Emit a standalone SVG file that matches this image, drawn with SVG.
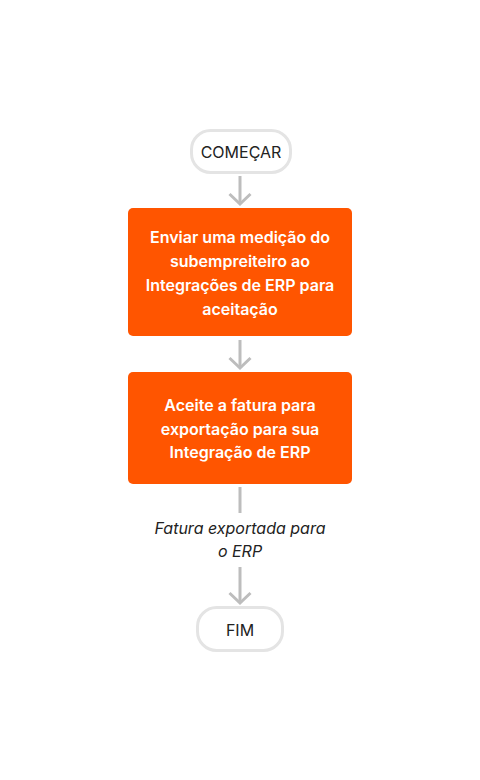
<svg xmlns="http://www.w3.org/2000/svg" width="480" height="780" viewBox="0 0 480 780">
<defs>
<marker id="ah" viewBox="0 0 24 24" refX="20" refY="12" markerWidth="24" markerHeight="24" markerUnits="userSpaceOnUse" orient="auto">
<path d="M10 1.5 L20 12 L10 22.5" fill="none" stroke="#bdbdbd" stroke-width="3"/>
</marker>
<style>
.term{fill:#ffffff;stroke:#e4e4e4;stroke-width:3}
.proc{fill:#ff5500}
.tt{font-family:Inter,"Liberation Sans",sans-serif;font-size:16px;fill:#222222;text-anchor:middle}
.pt{font-family:Inter,"Liberation Sans",sans-serif;font-size:16px;font-weight:600;fill:#ffffff;text-anchor:middle}
.lb{font-family:Inter,"Liberation Sans",sans-serif;font-size:16px;font-style:italic;fill:#222222;text-anchor:middle}
.cn{stroke:#bdbdbd;stroke-width:3;fill:none}
</style>
</defs>
<rect width="480" height="780" fill="#ffffff"/>
<g id="connectors">
<path class="cn" d="M240 176 V204" marker-end="url(#ah)"/>
<path class="cn" d="M240 340 V368" marker-end="url(#ah)"/>
<path class="cn" d="M240 487 V513"/>
<path class="cn" d="M240 567 V603" marker-end="url(#ah)"/>
<text class="lb" x="240" y="534">Fatura exportada para</text>
<text class="lb" x="240" y="557">o ERP</text>
</g>
<g id="start">
<rect class="term" x="191.5" y="130.5" width="99" height="42" rx="19"/>
<text class="tt" x="241" y="158">COMEÇAR</text>
</g>
<g id="step1">
<rect class="proc" x="128" y="208" width="224" height="128" rx="5"/>
<text class="pt" x="240" y="243">Enviar uma medição do</text>
<text class="pt" x="240" y="267">subempreiteiro ao</text>
<text class="pt" x="240" y="291">Integrações de ERP para</text>
<text class="pt" x="240" y="315">aceitação</text>
</g>
<g id="step2">
<rect class="proc" x="128" y="372" width="224" height="112" rx="5"/>
<text class="pt" x="240" y="411">Aceite a fatura para</text>
<text class="pt" x="240" y="435">exportação para sua</text>
<text class="pt" x="240" y="458">Integração de ERP</text>
</g>
<g id="end">
<rect class="term" x="197.5" y="607.5" width="85" height="43" rx="19"/>
<text class="tt" x="240" y="636">FIM</text>
</g>
</svg>
